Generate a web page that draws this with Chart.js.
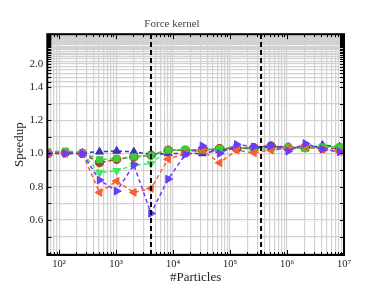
<!DOCTYPE html>
<html><head><meta charset="utf-8">
<script src="https://cdn.jsdelivr.net/npm/chart.js@4/dist/chart.umd.min.js"></script>
<style>html,body{margin:0;padding:0;background:#fff}</style>
</head><body>
<canvas id="c" width="382" height="287"></canvas>
<script>
// ---- data ----
const particles = [64,128,256,512,1024,2048,4096,8192,16384,32768,65536,131072,262144,524288,1048576,2097152,4194304,8388608];
const seriesUp     = [1.0,1.005,1.005,1.01,1.015,1.01,0.995,1.0,1.0,1.0,1.02,1.03,1.035,1.04,1.04,1.03,1.05,1.04];
const seriesCircle = [1.0,1.005,1.0,0.945,0.965,0.978,0.99,1.02,1.02,1.02,1.03,1.03,1.035,1.045,1.035,1.04,1.03,1.03];
const seriesSquare = [1.01,1.015,1.005,0.963,0.97,0.98,0.99,1.02,1.025,1.02,1.03,1.04,1.02,1.03,1.04,1.03,1.04,1.04];
const seriesDown   = [1.0,1.0,1.0,0.886,0.896,0.93,0.94,1.02,1.02,1.02,1.03,1.03,1.03,1.04,1.03,1.03,1.04,1.04];
const seriesLeft   = [1.0,1.0,1.0,0.766,0.834,0.766,0.79,0.966,1.0,1.02,0.944,1.02,1.004,1.02,1.03,1.04,1.025,1.01];
const seriesRight  = [1.0,1.0,1.0,0.84,0.774,0.932,0.64,0.846,0.994,1.046,1.0,1.054,1.04,1.046,1.014,1.06,1.026,1.01];
const thresholds = [4096, 350000];
const xMajorTicks = [100,1000,10000,100000,1000000,10000000];
const xTickLabels = ['10²','10³','10⁴','10⁵','10⁶','10⁷'];
const yTickLabels = [0.6,0.8,1.0,1.2,1.4,2.0];
const xRange = [62, 10000000];
const yRange = [0.39, 4.5];

// ---- warped y scale (linear up to 1.4, compressed above) ----
const KNEE = 1.4, WA = 1.86, WB = 0.644;
const fw = v => v <= KNEE ? v : WA - WB / v;
const iv = t => t <= KNEE ? t : WB / (WA - t);
class WarpScale extends Chart.LinearScale {
  buildTicks() {
    const t = [];
    for (let i = 4; i <= 45; i++) t.push({value: i / 10});
    return t;
  }
  getPixelForValue(v) {
    if (v === null || v === undefined || isNaN(v)) return NaN;
    const a = fw(this.min), b = fw(this.max);
    return this.getPixelForDecimal((fw(v) - a) / (b - a));
  }
  getValueForPixel(p) {
    const a = fw(this.min), b = fw(this.max);
    return iv(a + this.getDecimalForPixel(p) * (b - a));
  }
}
WarpScale.id = 'warp';
WarpScale.defaults = Chart.LinearScale.defaults;
Chart.register(WarpScale);

const pts = arr => particles.map((x, i) => ({x, y: arr[i]}));
const SERIF = "'Liberation Serif', 'DejaVu Serif', serif";

function series(data, color, style, rot, r, order) {
  return {
    data: pts(data), borderColor: color, backgroundColor: color,
    borderWidth: 1.5, borderDash: [4, 3], pointStyle: style, pointRotation: rot,
    pointRadius: r, pointBorderWidth: 1, pointBorderColor: color, tension: 0, order
  };
}
const datasets = [
  series(seriesRight, '#6a3cf8', 'triangle', 90, 4.5, 1),
  series(seriesLeft, '#f9602e', 'triangle', 270, 4.5, 2),
  series(seriesSquare, '#3ccc3c', 'rect', 0, 4.2, 3),
  series(seriesUp, '#4030b4', 'triangle', 0, 4.5, 4),
  series(seriesCircle, '#a8451c', 'circle', 0, 4.2, 5),
  series(seriesDown, '#3aec5a', 'triangle', 180, 4.5, 6),
];
thresholds.forEach(t => datasets.push({
  data: [{x: t, y: yRange[0]}, {x: t, y: yRange[1]}], borderColor: '#000',
  borderWidth: 2, borderDash: [5, 3], pointRadius: 0, order: 0
}));

const xMinor = [];
for (let e = 1; e <= 6; e++) for (let k = 1; k <= 9; k++) {
  const v = k * Math.pow(10, e);
  if (v >= xRange[0] && v <= xRange[1]) xMinor.push(v);
}
xMinor.push(10000000);

const framePlugin = {
  id: 'frame',
  afterDraw(chart) {
    const {ctx, chartArea: a, scales} = chart;
    ctx.save();
    ctx.strokeStyle = '#000';
    ctx.lineWidth = 1;
    const ys = scales.y;
    ys.ticks.forEach(t => {
      const p = Math.round(ys.getPixelForValue(t.value)) + 0.5;
      ctx.beginPath();
      ctx.moveTo(a.left, p); ctx.lineTo(a.left + 4, p);
      ctx.moveTo(a.right, p); ctx.lineTo(a.right - 4, p);
      ctx.stroke();
    });
    const xs = scales.x;
    xs.ticks.forEach(t => {
      const major = xMajorTicks.includes(t.value);
      const L = major ? 5 : 3;
      const p = Math.round(xs.getPixelForValue(t.value)) + 0.5;
      ctx.beginPath();
      ctx.moveTo(p, a.bottom); ctx.lineTo(p, a.bottom - L);
      ctx.moveTo(p, a.top); ctx.lineTo(p, a.top + L);
      ctx.stroke();
    });
    ctx.lineWidth = 2;
    ctx.strokeRect(a.left, a.top, a.right - a.left, a.bottom - a.top);
    ctx.restore();
  }
};

new Chart(document.getElementById('c'), {
  type: 'line',
  data: {datasets},
  plugins: [framePlugin],
  options: {
    responsive: false, animation: false,
    layout: {padding: {left: 0, right: 38, top: 0, bottom: 0}},
    plugins: {
      legend: {display: false}, tooltip: {enabled: false},
      title: {display: true, text: 'Force kernel', color: '#444',
        font: {family: SERIF, size: 11, weight: 'normal'}, padding: {top: 18, bottom: 3}}
    },
    scales: {
      x: {
        type: 'logarithmic', min: xRange[0], max: xRange[1],
        afterBuildTicks: s => { s.ticks = xMinor.map(v => ({value: v, major: xMajorTicks.includes(v)})); },
        afterFit: s => { s.height = 32; },
        grid: {color: '#d2d2d2', lineWidth: 1.2, drawTicks: false},
        border: {display: false},
        ticks: {autoSkip: false, maxRotation: 0, padding: 3, color: '#222',
          font: {family: SERIF, size: 10.5},
          callback: v => { const i = xMajorTicks.indexOf(v); return i >= 0 ? xTickLabels[i] : ''; }},
        title: {display: true, text: '#Particles', color: '#222',
          font: {family: SERIF, size: 13}, padding: {top: 0, bottom: 2}}
      },
      y: {
        type: 'warp', min: yRange[0], max: yRange[1],
        afterFit: s => { s.width = 47.3; },
        grid: {color: '#d2d2d2', lineWidth: 1.2, drawTicks: false},
        border: {display: false},
        ticks: {autoSkip: false, padding: 4, color: '#222',
          font: {family: SERIF, size: 11},
          callback: v => { const m = yTickLabels.find(l => Math.abs(l - v) < 1e-6); return m !== undefined ? m.toFixed(1) : ''; }},
        title: {display: true, text: 'Speedup', color: '#222',
          font: {family: SERIF, size: 13}, padding: {top: 12, bottom: 0}}
      }
    }
  }
});
</script>
</body></html>
